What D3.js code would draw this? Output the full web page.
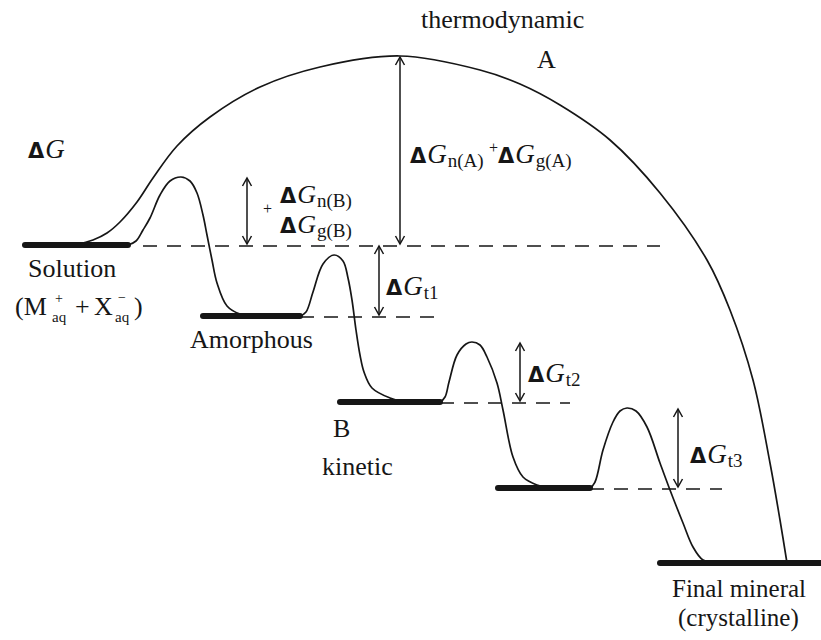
<!DOCTYPE html>
<html><head><meta charset="utf-8">
<script src="https://cdn.jsdelivr.net/npm/d3@7"></script>
<style>body{margin:0;background:#fff}svg{display:block}</style>
</head><body>
<svg id="c" width="821" height="640"></svg>
<script>
// ---------- DATA (reaction coordinate, free energy G; Solution level = 0) ----------
const levelNames = ["Solution", "Amorphous", "B", "Intermediate", "Final mineral"];
const levelG     = [0, -71, -157, -243, -318];
const levelStart = [0, 178, 315, 473, 635];
const levelEnd   = [103, 275, 415, 565, 796];
// dashed reference lines extending each level
const refStart = [118, 275, 415, 565];
const refEnd   = [635, 410, 545, 697];

// kinetic (stepwise) pathway B
const kineticX = [103,111,118,125,135,145,156,165,172,178,182,187,192,202,215,230,
                  275,281,288,298,309,318,323,327,331,335,339,347,365,380,
                  415,420,424,432,441,447,455,462,472,478,488,498,512,525,
                  565,570,578,588,595,602,611,622,635,645,658,668,678,693];
const kineticG = [0,4,15,27,50,64,68,64,52,30,10,-15,-38,-61,-69,-71,
                  -71,-67,-47,-19,-10,-16,-33,-55,-85,-110,-127,-143,-153,-157,
                  -157,-152,-137,-110,-99,-97,-100,-112,-138,-165,-212,-232,-240,-243,
                  -243,-237,-205,-177,-166,-163,-166,-182,-218,-245,-278,-302,-315,-318];

// thermodynamic (direct) pathway A
const thermoX = [50,68,82,95,112,128,152,185,235,295,375,455,495,535,585,635,682,705,728,745,755,762];
const thermoG = [0,5,12,23,43,67,99,128,158,178,189,175,161,140,105,52,-15,-65,-135,-218,-275,-318];

// energy-difference arrows
const arrowNames = ["ΔGn(A)+ΔGg(A)", "ΔGn(B)+ΔGg(B)", "ΔGt1", "ΔGt2", "ΔGt3"];
const arrowX    = [375, 222, 354, 495, 653];
const arrowFrom = [0, 0, -71, -157, -243];
const arrowTo   = [189, 68, 0, -97, -163];

// ---------- DRAWING ----------
const svg = d3.select("#c");
const x = d3.scaleLinear().domain([0, 796]).range([25, 821]);
const y = d3.scaleLinear().domain([-318, 189]).range([563, 56]);
const ink = "#161616";
const serif = "'Liberation Serif','Times New Roman',serif";

svg.append("defs").append("marker")
  .attr("id", "ah").attr("viewBox", "-10 -6 12 12")
  .attr("refX", 0).attr("refY", 0)
  .attr("markerWidth", 12).attr("markerHeight", 12)
  .attr("markerUnits", "userSpaceOnUse")
  .attr("orient", "auto-start-reverse")
  .append("path").attr("d", "M-8,-4.5 L0,0 L-8,4.5")
  .attr("fill", "none").attr("stroke", ink).attr("stroke-width", 1.5);

// dashed reference lines
svg.append("g").selectAll("line").data(refStart).join("line")
  .attr("x1", (d, i) => x(d)).attr("x2", (d, i) => x(refEnd[i]))
  .attr("y1", (d, i) => y(levelG[i]) + 1).attr("y2", (d, i) => y(levelG[i]) + 1)
  .attr("stroke", ink).attr("stroke-width", 1.5).attr("stroke-dasharray", "14,10");

// curves
const line = d3.line().x(d => x(d[0])).y(d => y(d[1])).curve(d3.curveCatmullRom.alpha(0.5));
svg.append("path").datum(thermoX.map((v, i) => [v, thermoG[i]]))
  .attr("d", line).attr("fill", "none").attr("stroke", ink).attr("stroke-width", 1.7);
svg.append("path").datum(kineticX.map((v, i) => [v, kineticG[i]]))
  .attr("d", line).attr("fill", "none").attr("stroke", ink).attr("stroke-width", 1.7);

// thick energy levels
svg.append("g").selectAll("line").data(levelG).join("line")
  .attr("x1", (d, i) => x(levelStart[i])).attr("x2", (d, i) => x(levelEnd[i]))
  .attr("y1", d => y(d)).attr("y2", d => y(d))
  .attr("stroke", ink).attr("stroke-width", 6).attr("stroke-linecap", "round");

// arrows
svg.append("g").selectAll("line").data(arrowX).join("line")
  .attr("x1", d => x(d)).attr("x2", d => x(d))
  .attr("y1", (d, i) => y(arrowFrom[i]) - 1).attr("y2", (d, i) => y(arrowTo[i]) + 1)
  .attr("stroke", ink).attr("stroke-width", 1.5)
  .attr("marker-start", "url(#ah)").attr("marker-end", "url(#ah)");

// ---------- TEXT ----------
function txt(s, px, py, size, opts = {}) {
  return svg.append("text").attr("x", px).attr("y", py)
    .style("font-family", opts.family || serif).style("font-size", size + "px")
    .style("font-style", opts.italic ? "italic" : "normal")
    .style("font-weight", opts.bold ? "bold" : "normal")
    .attr("fill", ink).text(s);
}
function dG(px, py, sub, gSize = 27) {
  const t = svg.append("text").attr("x", px).attr("y", py).attr("fill", ink);
  t.append("tspan").text("Δ").style("font-family", "'DejaVu Sans',sans-serif")
    .style("font-weight", "bold").style("font-size", "21px");
  t.append("tspan").text("G").attr("dx", 1).style("font-family", serif)
    .style("font-style", "italic").style("font-size", gSize + "px");
  if (sub) t.append("tspan").text(sub).attr("dy", 4).attr("dx", 1)
    .style("font-family", serif).style("font-size", "19px");
  return t;
}

txt("thermodynamic", 421, 28, 26);
txt("A", 537, 68, 26);
txt("B", 333, 437, 26);
txt("kinetic", 322, 475, 26);
dG(28, 158, null);

txt(levelNames[0], 28, 277, 26);
txt(levelNames[1], 190, 348, 26);
txt(levelNames[4], 672, 597, 25);
txt("(crystalline)", 678, 626, 25);

// (M+aq + X-aq)
txt("(M", 15, 315, 26);
txt("+", 55, 303, 14);
txt("aq", 52, 322, 15);
txt("+", 75, 315, 26);
txt("X", 94, 315, 26);
txt("−", 118, 302, 14);
txt("aq", 115, 322, 15);
txt(")", 134, 315, 26);

// arrow labels
dG(x(arrowX[0]) + 10, 163, "n(A)");
txt("+", 489, 153, 16);
dG(498, 163, "g(A)");
txt("+", 263, 214, 16);
dG(280, 203, "n(B)", 26);
dG(280, 233, "g(B)", 26);
dG(386, 295, "t1");
dG(528, 382, "t2");
dG(690, 463, "t3");
</script>
</body></html>
